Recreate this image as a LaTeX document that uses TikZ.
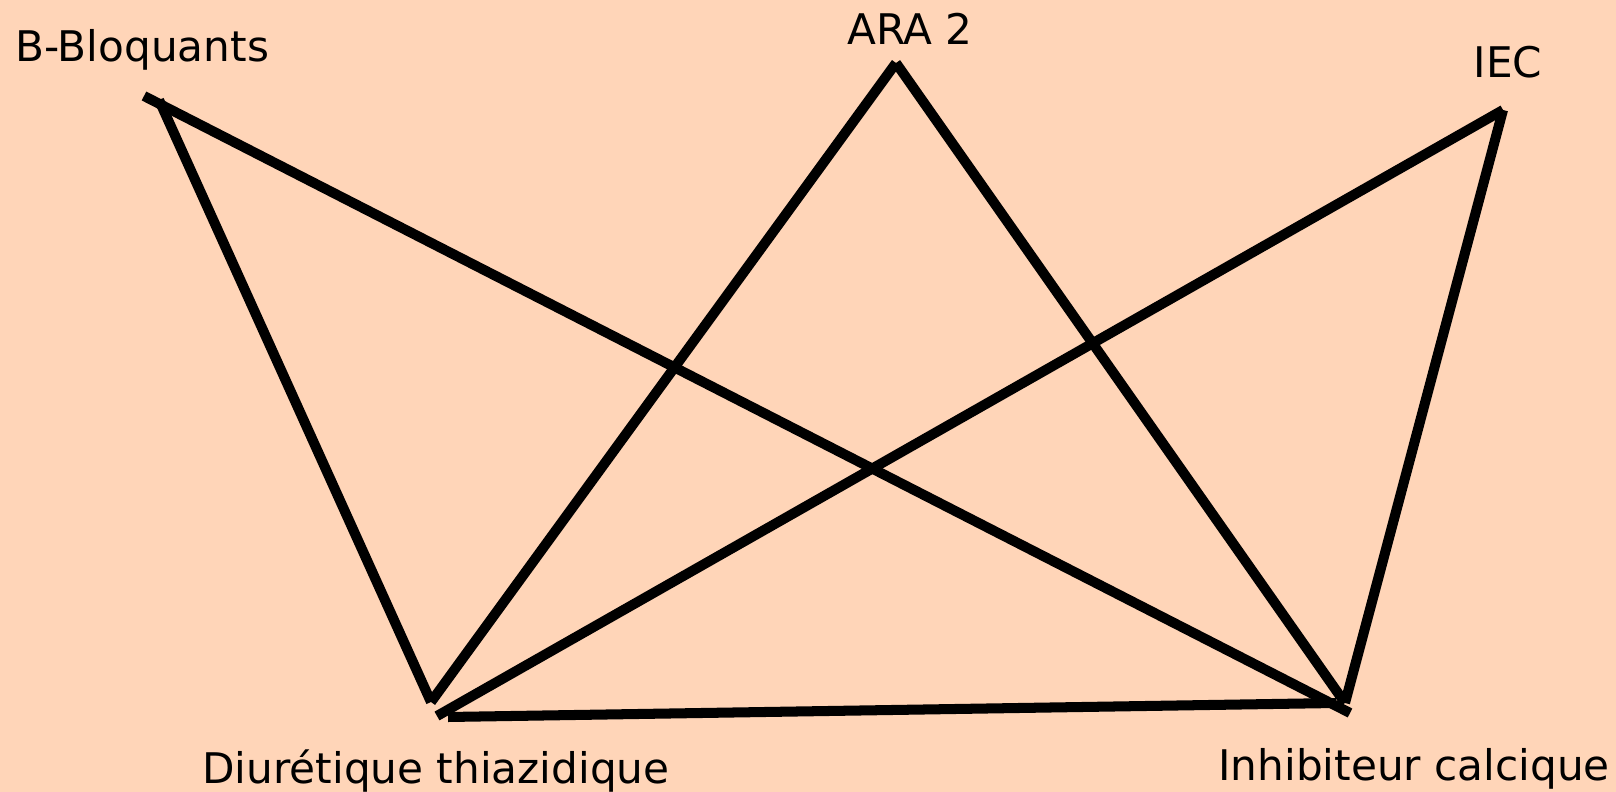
\documentclass[tikz,border=0pt]{standalone}
\usepackage{fontspec}
\setmainfont{DejaVu Sans}
\definecolor{peach}{RGB}{255,213,184}
\tikzset{
  label/.style={anchor=base, font=\fontsize{12}{14}\selectfont, inner sep=0pt},
  link/.style={line width=2.85pt, line cap=butt}
}
\begin{document}
\begin{tikzpicture}[x=0.01cm, y=-0.01cm]
\fill[peach] (0,0) rectangle (1616,792);
\useasboundingbox (0,0) rectangle (1616,792);
% labels
\node[label] (bbtext) at (142,62) {B-Bloquants};
\node[label] (aratext) at (910,45) {ARA 2};
\node[label] (iectext) at (1508,78) {IEC};
\node[label] (dttext) at (436,783) {Diurétique thiazidique};
\node[label] (ictext) at (1414,780) {Inhibiteur calcique};
% line ends
\coordinate (bb1) at (144,96);
\coordinate (bb2) at (159,100);
\coordinate (ara) at (896,63);
\coordinate (iec) at (1503,110);
\coordinate (dt1) at (431,702);
\coordinate (dt2) at (437,716);
\coordinate (dt3) at (448,717);
\coordinate (ic1) at (1350,713);
\coordinate (ic2) at (1345,703);
\coordinate (ic3) at (1336,703);
% combinations
\draw[link] (bb1) -- (ic1);
\draw[link] (bb2) -- (dt1);
\draw[link] (ara) -- (dt1);
\draw[link] (ara) -- (ic2);
\draw[link] (iec) -- (dt2);
\draw[link] (iec) -- (ic2);
\draw[link] (dt3) -- (ic3);
\end{tikzpicture}
\end{document}
